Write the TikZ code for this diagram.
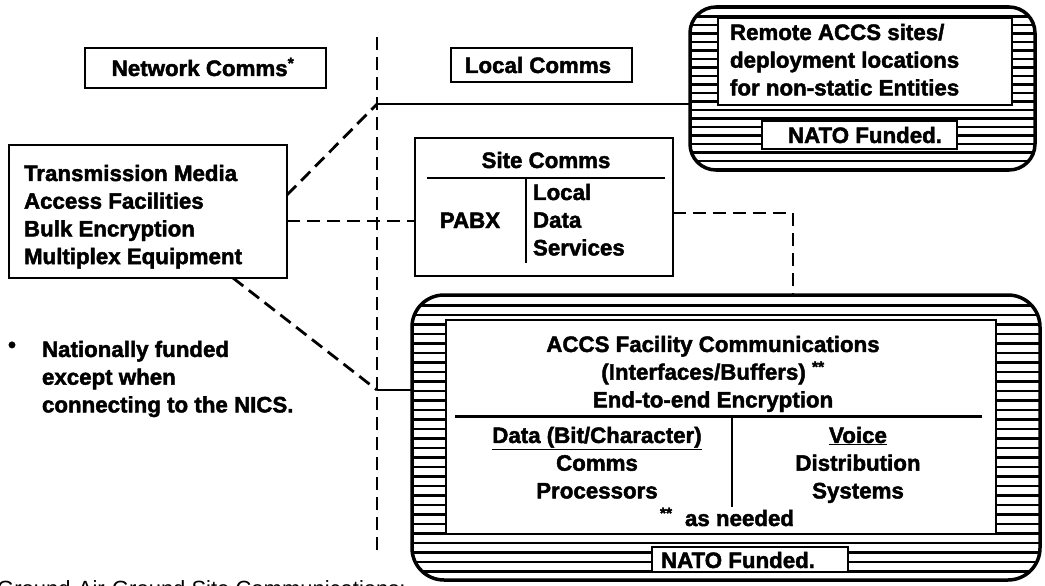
\documentclass[tikz,border=0pt]{standalone}
\usepackage{fontspec}
\setmainfont{Liberation Sans}[BoldFeatures={FakeBold=2}]
\begin{document}
\begin{tikzpicture}[x=1pt,y=-1pt,
  box/.style={draw, line width=2.8pt, inner sep=0pt, outer sep=0pt, fill=white},
  hatch/.style={path picture={\foreach \k in {0,...,45}{\draw[line width=2.6pt] ([yshift=-\k*#1-1pt]path picture bounding box.north west) -- ([yshift=-\k*#1-1pt]path picture bounding box.north east);}}},
  rbox/.style={draw, line width=3.5pt, inner sep=0pt, outer sep=0pt},
  txt/.style={font=\bfseries\fontsize{22.3}{27.7}\selectfont, inner sep=0pt, outer sep=0pt},
  dline/.style={line width=2.8pt, dash pattern=on 13pt off 7pt},
  sline/.style={line width=2.5pt}]
\useasboundingbox (0,0) rectangle (1045,586);

% coordinates for junctions
\coordinate (vtop) at (377,37);
\coordinate (vbot) at (377,557);
\coordinate (jtop) at (377,104);
\coordinate (jbot) at (377,390);
\coordinate (c1) at (793,213);

% boxes
\node[box, minimum width=241, minimum height=40] (net) at (205.5,68) {};
\node[box, minimum width=181, minimum height=34] (loc) at (541.5,65) {};
\node[box, minimum width=278, minimum height=133] (tm) at (148,211.5) {};
\node[box, minimum width=258, minimum height=138] (site) at (544,207) {};
\node[rbox, rounded corners=26pt, hatch=8.5pt, minimum width=345, minimum height=163] (remote) at (862.5,88.5) {};
\node[box, minimum width=294, minimum height=87] (rin) at (865,61.5) {};
\node[box, minimum width=195, minimum height=28] (rnato) at (859.5,135) {};
\node[rbox, rounded corners=32pt, hatch=9.5pt, minimum width=628, minimum height=285] (accs) at (726,437.5) {};
\node[box, minimum width=550, minimum height=214] (ain) at (721,427) {};
\node[box, minimum width=196, minimum height=25] (anato) at (750,559.5) {};

% connectors
\draw[dline] (vtop) -- (vbot);
\draw[dline] ([yshift=16.5pt]tm.east) -- (jtop);
\draw[sline] (jtop) -- (jtop -| remote.west);
\draw[dline] ([yshift=-9.5pt]tm.east) -- ([yshift=-9.5pt]tm.east -| site.west);
\draw[dline] ([yshift=-6pt]site.east) -- (c1) -- (c1 |- accs.north);
\draw[dline] ([xshift=85pt]tm.south) -- (jbot);
\draw[sline] (jbot) -- (jbot -| accs.west);

% dividers
\draw[line width=2.8pt] (427,178) -- (665,178);
\draw[line width=2.8pt] (526,178) -- (526,263);
\draw[line width=3pt] (455,416) -- (982,416);
\draw[line width=2.8pt] (732,416) -- (732,507);

% texts
\node[txt, anchor=base] (tnet) at (203,76) {Network Comms\textsuperscript{*}};
\node[txt, anchor=base] (tloc) at (538,73) {Local Comms};
\node[txt, anchor=north west, align=left] (ttm) at (24,161.6) {\strut Transmission Media\\Access Facilities\\Bulk Encryption\\Multiplex Equipment};
\node[txt, anchor=base] (tsite) at (546,168) {Site Comms};
\node[txt, anchor=base] (tpabx) at (470,228) {PABX};
\node[txt, anchor=north west, align=left] (tlds) at (533,180.6) {\strut Local\\Data\\Services};
\node[txt, anchor=north west, align=left] (trem) at (730,20.6) {\strut Remote ACCS sites/\\deployment locations\\for non-static Entities};
\node[txt, anchor=base] (trnato) at (865,143) {NATO Funded.};
\node[txt, anchor=north, align=center] (taccs) at (713,332.6) {\strut ACCS Facility Communications\\(Interfaces/Buffers) \textsuperscript{**}\\End-to-end Encryption};
\node[txt, anchor=north, align=center] (tdata) at (597,423.6) {\strut\underline{Data (Bit/Character)}\\Comms\\Processors};
\node[txt, anchor=north, align=center] (tvoice) at (858,423.6) {\strut\underline{Voice}\\Distribution\\Systems};
\node[txt, anchor=base] (tneed) at (727,526) {\textsuperscript{**}\ \ as needed};
\node[txt, anchor=base] (tanato) at (738,568) {NATO Funded.};
\node[txt] (bul) at (12,347) {•};
\node[txt, anchor=north west, align=left] (tfoot) at (42,337.6) {\strut Nationally funded\\except when\\connecting to the NICS.};
\node[font=\fontsize{22}{26}\selectfont, inner sep=0pt, anchor=base west] (tbot) at (-3,596) {Ground-Air-Ground Site Communications:};
\end{tikzpicture}
\end{document}
